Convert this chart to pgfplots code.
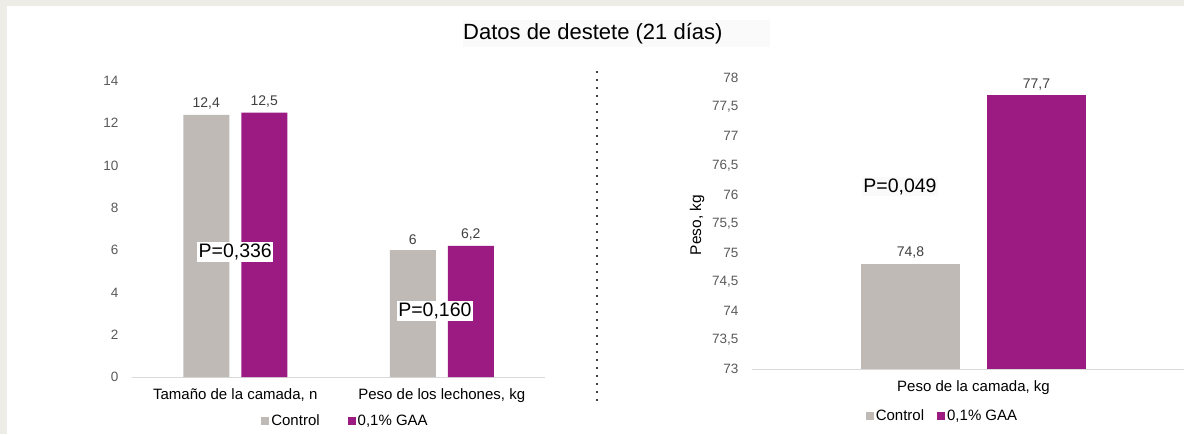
\documentclass[border=0pt]{standalone}
\usepackage{pgfplots}
\pgfplotsset{compat=1.18}
\usepackage{fontspec}
\setmainfont{Liberation Sans}
\definecolor{ctrl}{RGB}{191,186,182}
\definecolor{gaa}{RGB}{155,27,131}
\definecolor{tickc}{RGB}{89,89,89}
\definecolor{lblc}{RGB}{64,64,64}
\definecolor{bgc}{RGB}{238,236,231}
\definecolor{axc}{RGB}{217,217,217}

\pgfplotsset{
  common/.style={
    scale only axis, anchor=south west, clip=false,
    axis x line*=bottom, axis y line*=left,
    y axis line style={draw=none},
    x axis line style={draw=axc,line width=1pt,-},
    tick style={draw=none},
    yticklabel style={font=\fontsize{13.5}{15}\selectfont, color=tickc, xshift=-10pt},
    xticklabel style={font=\fontsize{15}{17}\selectfont, color=black, yshift=-4pt},
    nodes near coords,
    nodes near coords style={font=\fontsize{14}{16}\selectfont, color=lblc, yshift=2pt},
    /pgf/number format/use comma,
    /pgf/number format/1000 sep={},
    /pgf/number format/assume math mode=true,
    legend columns=2,
    legend style={draw=none, fill=none, font=\fontsize{15}{17}\selectfont},
  }
}

\begin{document}
\begin{tikzpicture}
\useasboundingbox (0pt,0pt) rectangle (1184pt,434pt);
\fill[bgc] (0pt,0pt) rectangle (1184pt,434pt);
\fill[white] (7pt,0pt) rectangle (1184pt,428pt);
\fill[black!2] (463pt,387pt) rectangle (770pt,414pt);
\node[anchor=west,inner sep=0pt,font=\fontsize{22}{25}\selectfont] at (463pt,400pt) {Datos de destete (21 días)};
\draw[line width=2.2pt, line cap=round, dash pattern=on 0pt off 8pt] (597pt,362pt) -- (597pt,27pt);

\begin{axis}[common,
  at={(132pt,57pt)}, width=413pt, height=296pt,
  ybar=12pt, bar width=46pt,
  legend image code/.code={\fill[#1] (0pt,-4pt) rectangle (8pt,4pt);},
  xmin=-0.5, xmax=1.5, ymin=0, ymax=14,
  ytick={0,2,4,6,8,10,12,14},
  xtick={0,1}, xticklabels={Tamaño de la camada{,} n, Peso de los lechones{,} kg},
  legend style={at={(0.517,-0.149)}, anchor=center,
    /tikz/every even column/.append style={column sep=26pt}},
]
\addplot[fill=ctrl, draw=none] coordinates {(0,12.4) (1,6)};
\addplot[fill=gaa, draw=none] coordinates {(0,12.5) (1,6.2)};
\legend{Control, 0{,}1\% GAA}
\node[fill=white, inner sep=1.5pt, font=\fontsize{19.5}{22}\selectfont] at (axis cs:0,5.91) {P=0,336};
\node[fill=white, inner sep=1.5pt, font=\fontsize{19.5}{22}\selectfont] at (axis cs:0.967,3.12) {P=0,160};
\end{axis}

\begin{axis}[common,
  at={(752pt,65pt)}, width=443pt, height=291pt,
  ybar=27pt, bar width=99pt,
  legend image code/.code={\fill[#1] (0pt,-4pt) rectangle (8pt,4pt);},
  xmin=-0.5, xmax=0.5, ymin=73, ymax=78,
  ytick={73,73.5,74,74.5,75,75.5,76,76.5,77,77.5,78},
  xtick={0}, xticklabels={Peso de la camada{,} kg},
  ylabel={Peso, kg},
  ylabel style={at={(axis description cs:-0.124,0.495)}, anchor=center, font=\fontsize{15.5}{17}\selectfont},
  legend style={at={(0.43,-0.1615)}, anchor=center,
    /tikz/every even column/.append style={column sep=11pt}},
]
\addplot[fill=ctrl, draw=none] coordinates {(0,74.8)};
\addplot[fill=gaa, draw=none] coordinates {(0,77.7)};
\legend{Control, 0{,}1\% GAA}
\node[fill=black!2, inner sep=1.5pt, font=\fontsize{19.5}{22}\selectfont] at (axis cs:-0.166,76.13) {P=0,049};
\end{axis}
\end{tikzpicture}
\end{document}
